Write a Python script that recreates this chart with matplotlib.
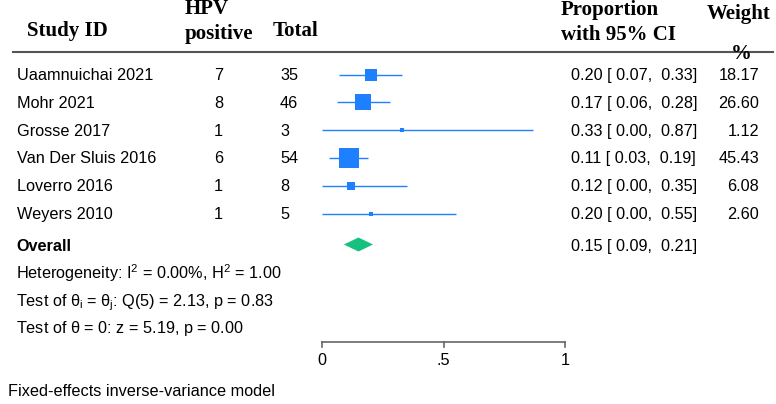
import matplotlib.pyplot as plt
import numpy as np

plt.rcParams['font.family'] = ['Liberation Sans', 'DejaVu Sans']
plt.rcParams['mathtext.fontset'] = 'custom'
plt.rcParams['mathtext.rm'] = 'Liberation Sans'
plt.rcParams['mathtext.it'] = 'Liberation Sans'

# данные исследований
studies = ['Uaamnuichai 2021', 'Mohr 2021', 'Grosse 2017',
           'Van Der Sluis 2016', 'Loverro 2016', 'Weyers 2010']
hpv_pos = [7, 8, 1, 6, 1, 1]
totals = [35, 46, 3, 54, 8, 5]
prop = [0.20, 0.17, 0.33, 0.11, 0.12, 0.20]
ci_lo = [0.07, 0.06, 0.00, 0.03, 0.00, 0.00]
ci_hi = [0.33, 0.28, 0.87, 0.19, 0.35, 0.55]
weights = [18.17, 26.60, 1.12, 45.43, 6.08, 2.60]

overall = (0.15, 0.09, 0.21)
stats_lines = [r'Heterogeneity: I$^{2}$ = 0.00%, H$^{2}$ = 1.00',
               r'Test of $\theta_{i}$ = $\theta_{j}$: Q(5) = 2.13, p = 0.83',
               r'Test of $\theta$ = 0: z = 5.19, p = 0.00']
xticks = [0, 0.5, 1]
xtick_labels = ['0', '.5', '1']

W, H = 776, 404
blue = '#1e80ff'
green = '#18c080'
serif = ['Liberation Serif', 'DejaVu Serif']

fig = plt.figure(figsize=(W / 100, H / 100), dpi=100)
ax = fig.add_axes([0, 0, 1, 1])
# 0 -> 322 px, 1 -> 565 px
scale = 243
x0 = 322
ax.set_xlim(-x0 / scale, (W - x0) / scale)
ax.set_ylim(H, 0)
ax.axis('off')

tr = ax.get_yaxis_transform()  # x в долях осей, y в пикселях


def px(p):
    return p / W


# заголовок
hdr = dict(fontfamily=serif, fontweight='bold', fontsize=15, va='baseline', transform=tr)
ax.text(px(27), 36, 'Study ID', **hdr)
ax.text(px(185), 14, 'HPV', **hdr)
ax.text(px(185), 39, 'positive', **hdr)
ax.text(px(273), 36, 'Total', **hdr)
ax.text(px(561), 15, 'Proportion', **hdr)
ax.text(px(561), 40, 'with 95% CI', **hdr)
ax.text(px(707), 19, 'Weight', **hdr)
ax.text(px(731), 59, '%', **hdr)
ax.plot([px(13), px(773)], [52, 52], color='#555555', lw=1.5, transform=tr)

base_y = 80 + 27.8 * np.arange(len(studies))
fs = 11.7
txt = dict(fontsize=fs, va='baseline', transform=tr)
for i, b in enumerate(base_y):
    ax.text(px(17), b, studies[i], **txt)
    ax.text(px(223), b, str(hpv_pos[i]), ha='right', **txt)
    ax.text(px(280), b, str(totals[i]), **txt)
    ax.text(px(571), b, f'{prop[i]:.2f} [ {ci_lo[i]:.2f},  {ci_hi[i]:.2f}]', **txt)
    ax.text(px(759), b, f'{weights[i]:.2f}', ha='right', **txt)
    y = b - 5.5
    ax.plot([ci_lo[i], ci_hi[i]], [y, y], color=blue, lw=1.0, solid_capstyle='butt')
    ax.plot(prop[i], y, marker='s', color=blue, markeredgewidth=0,
            markersize=2.16 * np.sqrt(weights[i]))

# общий эффект
ob = 251
oy = ob - 6.5
est, lo, hi = overall
ax.fill([lo, est, hi, est], [oy, oy - 7, oy, oy + 7], color=green, lw=0)
ax.text(px(16), ob, 'Overall', fontweight='bold', **txt)
ax.text(px(571), ob, f'{est:.2f} [ {lo:.2f},  {hi:.2f}]', **txt)

for b, s in zip([279, 306, 333], stats_lines):
    ax.text(px(16), b, s, **txt)

# ось
axis_y = 342
ax.plot([xticks[0], xticks[-1]], [axis_y, axis_y], color='#666666', lw=1.2)
for t, lab in zip(xticks, xtick_labels):
    ax.plot([t, t], [axis_y, axis_y + 5], color='#666666', lw=1.2)
    ax.text(t, 365, lab, fontsize=fs, ha='center', va='baseline')

ax.text(px(8), 396, 'Fixed-effects inverse-variance model', **txt)

fig.savefig('out.png', dpi=100)
